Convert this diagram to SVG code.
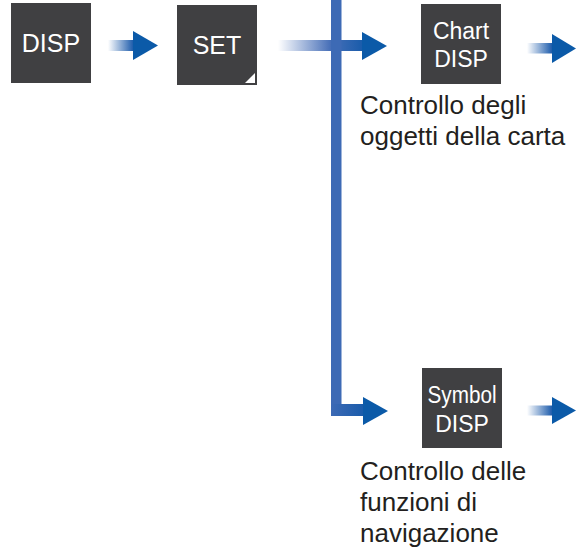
<svg xmlns="http://www.w3.org/2000/svg" width="576" height="550" viewBox="0 0 576 550">
<style>
.box{fill:#404042}
.kt{fill:#ffffff;font-family:"Liberation Sans",Arial,sans-serif;text-anchor:middle}
.lbl{fill:#231f20;font-family:"Liberation Sans",Arial,sans-serif;font-size:26px}
.head{fill:#0b5aa8}
.bar{fill:#3d6ab5}
</style>
<defs>
<linearGradient id="gShaft" x1="0" y1="0" x2="1" y2="0">
<stop offset="0" stop-color="#ffffff"/>
<stop offset="1" stop-color="#1f5dac"/>
</linearGradient>
<linearGradient id="gLong" x1="0" y1="0" x2="1" y2="0">
<stop offset="0" stop-color="#ffffff"/>
<stop offset="0.62" stop-color="#4870b8"/>
<stop offset="1" stop-color="#1a5cab"/>
</linearGradient>
<linearGradient id="gCorner" x1="0" y1="0" x2="1" y2="0">
<stop offset="0" stop-color="#3d6ab5"/>
<stop offset="1" stop-color="#1a5cab"/>
</linearGradient>
</defs>
<g id="connectors">
<g id="arrow-disp-set">
<rect x="108" y="40" width="25" height="11" fill="url(#gShaft)"/>
<polygon class="head" points="133,31 158,45.5 133,60"/>
</g>
<g id="arrow-set-chart">
<rect x="278" y="40" width="84" height="11" fill="url(#gLong)"/>
<rect class="bar" x="331" y="0" width="10.5" height="416"/>
<polygon class="head" points="362,32 387,46 362,60"/>
</g>
<g id="arrow-set-symbol">
<rect x="331" y="404" width="32" height="12" fill="url(#gCorner)"/>
<polygon class="head" points="363,397 388,411 363,425"/>
</g>
<g id="arrow-chart-out">
<rect x="527" y="43" width="25" height="10.5" fill="url(#gShaft)"/>
<polygon class="head" points="552,34 576,48.5 552,63"/>
</g>
<g id="arrow-symbol-out">
<rect x="527" y="405.5" width="25" height="10" fill="url(#gShaft)"/>
<polygon class="head" points="552,397 576,410.5 552,424"/>
</g>
</g>
<g id="node-disp">
<rect class="box" x="11" y="3" width="80" height="80"/>
<text class="kt" x="51" y="52" font-size="25">DISP</text>
</g>
<g id="node-set">
<rect class="box" x="177" y="5" width="80" height="80"/>
<text class="kt" x="217" y="54" font-size="25">SET</text>
<polygon fill="#ffffff" points="245,83 255,83 255,73"/>
</g>
<g id="node-chart-disp">
<rect class="box" x="421" y="4" width="80" height="80"/>
<text class="kt" x="461" y="39" font-size="23">Chart</text>
<text class="kt" x="461" y="67" font-size="23">DISP</text>
</g>
<g id="node-symbol-disp">
<rect class="box" x="422" y="368" width="80" height="80"/>
<text class="kt" x="462" y="403" font-size="23" textLength="69" lengthAdjust="spacingAndGlyphs">Symbol</text>
<text class="kt" x="462" y="432" font-size="23">DISP</text>
</g>
<g id="label-chart">
<text class="lbl" x="360" y="114">Controllo degli</text>
<text class="lbl" x="360" y="145">oggetti della carta</text>
</g>
<g id="label-symbol">
<text class="lbl" x="360" y="480">Controllo delle</text>
<text class="lbl" x="360" y="511">funzioni di</text>
<text class="lbl" x="360" y="542">navigazione</text>
</g>
</svg>
